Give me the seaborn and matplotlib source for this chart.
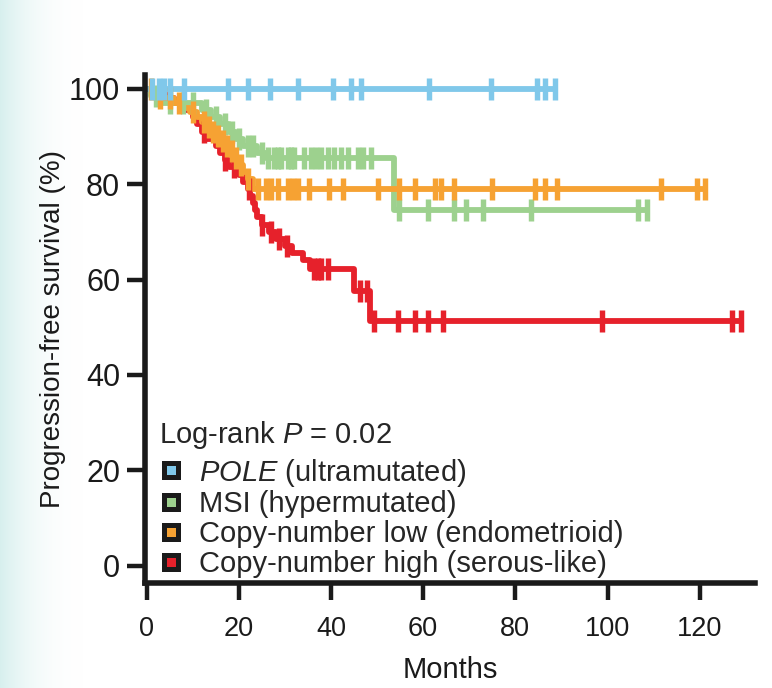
import numpy as np
import pandas as pd
import matplotlib
matplotlib.use("Agg")
import matplotlib.pyplot as plt
from matplotlib.lines import Line2D
import seaborn as sns

# ---------------- data ----------------
groups = ["POLE", "MSI", "CNlow", "CNhigh"]
labels = ["$\\it{POLE}$ (ultramutated)", "MSI (hypermutated)",
          "Copy-number low (endometrioid)", "Copy-number high (serous-like)"]
colors = ["#80c8ea", "#9dd18e", "#f6a233", "#e6212b"]

# step times (months) and survival (%) -- event steps
pole_t = [0]
pole_s = [100]
pole_end = 88.6
pole_cens = [1.1, 2.6, 3.9, 5.0, 8.2, 17.7, 22.1, 26.8, 32.9, 40.4, 44.3,
             46.5, 61.2, 74.8, 84.7, 86.5]

msi_t = [0, 1, 3, 12, 14, 16, 18, 19.5, 21, 24, 26, 53.6]
msi_s = [100, 98.5, 97, 95.5, 94, 92.5, 91, 89.5, 88, 86.5, 85.4, 74.5]
msi_end = 108.5
msi_cens = [2, 5, 8, 10, 13, 15, 17, 18.5, 20, 22, 23, 25, 26.4, 27.7, 28.5,
            29.2, 30.7, 31.4, 32, 34.2, 35.7, 36.8, 37.8, 39.4, 40.6, 42.2,
            43.7, 45.8, 46.9, 48.6, 54.7, 61.0, 66.6, 69.4, 73.1, 83.5, 106.6]

cnl_t = [0, 1.5, 3, 6, 8, 9.5, 11, 12, 13, 14, 15, 16, 17, 18, 19, 20, 21, 22, 23]
cnl_s = [100, 99, 98, 97, 96, 95, 94, 93, 92, 91, 90, 89, 88, 87, 85.5, 84,
         82.5, 81, 79]
cnl_end = 121.2
cnl_cens = [1, 3, 5, 7, 10, 12.5, 13.5, 14.5, 15.5, 16.5, 17.5, 18.5, 19.5,
            20.5, 22, 24.2, 25.9, 27.0, 28.5, 30.7, 31.8, 32.9, 35.2, 39.6,
            42.6, 50.2, 54.7, 58.2, 62.5, 63.8, 66.8, 75.0, 84.3, 86.5, 89.1,
            111.6, 119.4]

cnh_t = [0, 2, 4, 6, 8, 10, 11, 12, 13, 15, 16, 17, 18, 20, 21, 22, 22.5, 23,
         23.5, 24, 25, 26.5, 28, 30, 31.5, 34, 35.5, 45, 48.5]
cnh_s = [100, 99, 98, 97, 95.5, 94, 92.5, 91, 89.5, 88, 86.5, 85, 83.5, 82,
         80.5, 79, 77.5, 76, 74.5, 73, 71.5, 70, 68.5, 67, 65.5, 64, 62.3,
         57.5, 51.4]
cnh_end = 129
cnh_cens = [12.5, 17, 19, 22.2, 25, 27, 28.7, 30.5, 36.3, 37.2, 37.8, 39.4,
            46.3, 47.8, 49.3, 54.5, 58.2, 61.0, 64.4, 98.8, 126.9]

series = {
    "POLE": (pole_t, pole_s, pole_end, pole_cens),
    "MSI": (msi_t, msi_s, msi_end, msi_cens),
    "CNlow": (cnl_t, cnl_s, cnl_end, cnl_cens),
    "CNhigh": (cnh_t, cnh_s, cnh_end, cnh_cens),
}

# ---------------- style ----------------
sns.set_theme(style="white")
plt.rcParams["font.family"] = ["Liberation Sans", "DejaVu Sans"]
plt.rcParams["mathtext.fontset"] = "custom"
plt.rcParams["mathtext.rm"] = "Liberation Sans"
plt.rcParams["mathtext.it"] = "Liberation Sans:italic"

fig = plt.figure(figsize=(7.72, 6.88), dpi=100)

# faint teal wash at the very left edge of the page
bg = fig.add_axes([0, 0, 1, 1], zorder=-5)
grad = np.linspace(1, 0, 300) ** 2.5
bg.imshow(grad[None, :], extent=[0, 0.12, 0, 1], aspect="auto",
          interpolation="bilinear",
          cmap=matplotlib.colors.LinearSegmentedColormap.from_list(
              "wash", ["#ffffff", "#d3eeec"]), vmin=0, vmax=1.1)
bg.set_xlim(0, 1)
bg.set_ylim(0, 1)
bg.axis("off")

ax = fig.add_axes([0.188, 0.1526, 0.79, 0.738])
ax.patch.set_alpha(0)

draw_order = ["CNhigh", "MSI", "CNlow", "POLE"]
for g in draw_order:
    t, s, end, cens = series[g]
    col = colors[groups.index(g)]
    df = pd.DataFrame({"t": list(t) + [end], "s": list(s) + [s[-1]]})
    sns.lineplot(data=df, x="t", y="s", ax=ax, color=col, lw=4.2,
                 drawstyle="steps-post", estimator=None, sort=False,
                 solid_capstyle="butt")
    ct = np.array(list(cens) + [end])
    idx = np.searchsorted(np.array(t), ct, side="right") - 1
    cs = np.array(s)[idx]
    cdf = pd.DataFrame({"t": ct, "s": cs})
    sns.scatterplot(data=cdf, x="t", y="s", ax=ax, marker="|", s=270,
                    color=col, linewidth=3.9, zorder=3)

ax.set_xlim(-0.3, 132)
ax.set_ylim(-3.6, 102.8)
ax.set_xticks([0, 20, 40, 60, 80, 100, 120])
ax.set_yticks([0, 20, 40, 60, 80, 100])
for sp in ["top", "right"]:
    ax.spines[sp].set_visible(False)
for sp in ["left", "bottom"]:
    ax.spines[sp].set_linewidth(4)
    ax.spines[sp].set_color("#1a1a1a")
ax.tick_params(axis="y", direction="out", length=13, width=3.2, pad=5,
               labelsize=22, colors="#1a1a1a", left=True)
ax.tick_params(axis="x", direction="out", length=12, width=3.2, pad=12,
               labelsize=19.5, colors="#1a1a1a", bottom=True)
ax.set_xlabel("Months", fontsize=21, color="#1a1a1a", labelpad=10)
ax.set_ylabel("Progression-free survival (%)", fontsize=20, color="#1a1a1a",
              labelpad=2)

handles = [Line2D([], [], ls="none", marker="s", markersize=10.5,
                  markerfacecolor=c, markeredgecolor="#1a1a1a",
                  markeredgewidth=3.6) for c in colors]
leg = ax.legend(handles, labels, loc="lower left",
                bbox_to_anchor=(-0.01, -0.03), frameon=False, fontsize=21,
                title="Log-rank $\\it{P}$ = 0.02", title_fontsize=21,
                handlelength=0.8, handletextpad=0.55, labelspacing=0.06,
                borderaxespad=0.3, alignment="left")
leg._legend_box.sep = 4

fig.savefig("out.png", dpi=100, facecolor="white")
